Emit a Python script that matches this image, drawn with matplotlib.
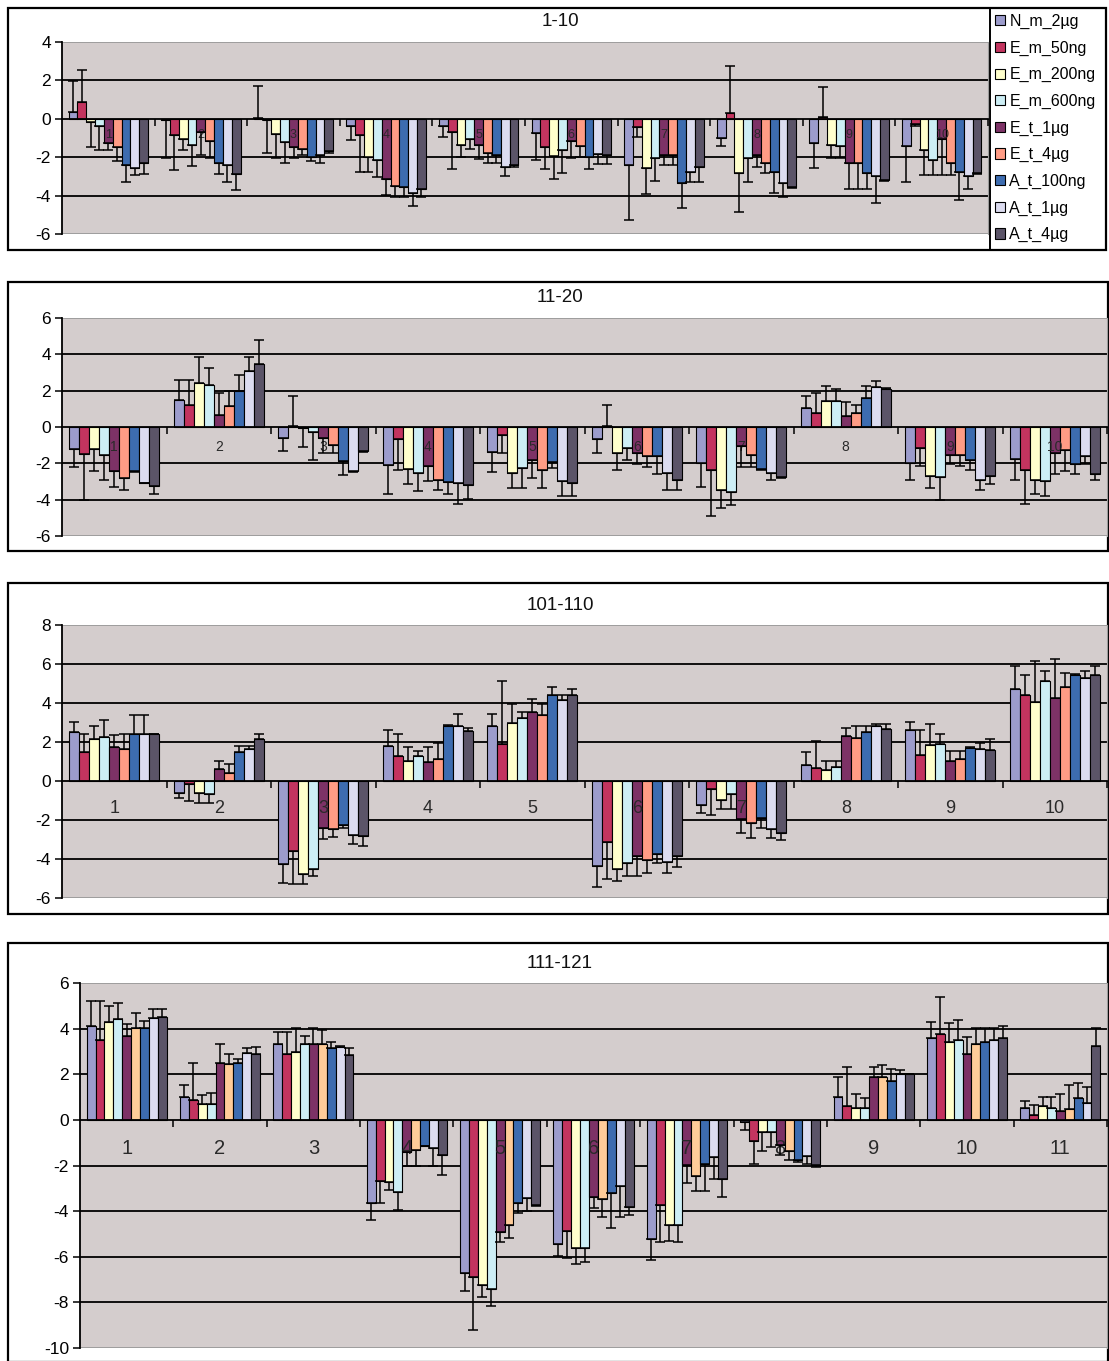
import numpy as np
import matplotlib
matplotlib.use("Agg")
import matplotlib.pyplot as plt
from matplotlib.patches import Rectangle

plt.rcParams['font.family'] = ['Liberation Sans', 'DejaVu Sans']
plt.rcParams['axes.unicode_minus'] = False

W, H = 1109, 1361

series = ["N_m_2µg", "E_m_50ng", "E_m_200ng", "E_m_600ng", "E_t_1µg",
          "E_t_4µg", "A_t_100ng", "A_t_1µg", "A_t_4µg"]
colors = ['#9C9CCC', '#C3345F', '#FFFFCC', '#CDEEF5', '#7D3266',
          '#FF9C85', '#3D6CB0', '#DCDCF0', '#5B5468']
orange_p4 = '#FFCC99'

# ---------------- Panel 1: 1-10 ----------------
p1_labels = ["1", "2", "3", "4", "5", "6", "7", "8", "9", "10"]
p1_vals = [
    [0.38, 0.87, -0.15, -0.4, -1.27, -1.45, -2.43, -2.57, -2.3],
    [-0.05, -0.83, -1.05, -1.35, -0.7, -1.15, -2.3, -2.4, -2.85],
    [0.02, -0.05, -0.8, -1.23, -1.45, -1.55, -1.97, -1.88, -1.7],
    [-0.4, -0.83, -1.97, -2.17, -3.13, -3.48, -3.57, -3.88, -3.67],
    [-0.37, -0.71, -1.36, -1.04, -1.36, -1.79, -1.88, -2.52, -2.4],
    [-0.75, -1.46, -1.93, -1.65, -1.18, -1.44, -1.97, -1.83, -1.88],
    [-2.4, -0.43, -2.57, -2.05, -1.88, -1.91, -3.36, -2.75, -2.49],
    [-1.0, 0.3, -2.83, -2.05, -1.88, -2.31, -2.75, -3.36, -3.53],
    [-1.27, 0.08, -1.36, -1.41, -2.28, -2.31, -2.83, -2.97, -3.18],
    [-1.44, -0.26, -1.62, -2.14, -1.06, -2.28, -2.75, -3.0, -2.8],
]
p1_errs = [
    [1.6, 1.68, 1.3, 1.25, 0.38, 0.75, 0.84, 0.38, 0.55],
    [2.0, 1.82, 0.6, 1.1, 1.2, 0.9, 0.55, 0.87, 0.85],
    [1.68, 1.75, 1.25, 1.07, 0.6, 0.35, 0.23, 0.42, 0.1],
    [0.73, 1.92, 0.78, 0.87, 0.83, 0.57, 0.48, 0.66, 0.38],
    [0.59, 1.92, 0.61, 0.54, 0.73, 0.5, 0.42, 0.45, 0.1],
    [1.42, 1.13, 1.22, 1.15, 0.87, 0.53, 0.66, 0.52, 0.47],
    [2.87, 0.5, 1.35, 1.2, 0.52, 0.5, 1.3, 0.52, 0.78],
    [0.44, 2.43, 2.0, 1.22, 0.61, 0.49, 1.13, 0.69, 0.05],
    [1.3, 1.6, 0.7, 0.64, 1.39, 1.36, 0.84, 1.43, 0.05],
    [1.83, 0.1, 1.3, 0.78, 1.86, 0.64, 1.48, 0.67, 0.1],
]

# ---------------- Panel 2: 11-20 ----------------
p2_labels = ["1", "2", "3", "4", "5", "6", "7", "8", "9", "10"]
p2_vals = [
    [-1.21, -1.47, -1.21, -1.54, -2.44, -2.8, -2.44, -3.06, -3.23],
    [1.5, 1.23, 2.42, 2.33, 0.68, 1.14, 2.0, 3.06, 3.47],
    [-0.6, 0.05, -0.05, -0.28, -0.6, -0.97, -1.89, -2.4, -1.34],
    [-2.09, -0.67, -2.33, -2.55, -2.13, -2.91, -3.04, -3.11, -3.22],
    [-1.36, -0.45, -2.55, -2.24, -1.82, -2.36, -1.91, -2.95, -3.08],
    [-0.64, 0.05, -1.43, -1.16, -1.43, -1.61, -1.61, -2.53, -2.9],
    [-1.98, -2.35, -3.45, -3.58, -1.06, -1.52, -2.31, -2.53, -2.77],
    [1.05, 0.77, 1.45, 1.41, 0.59, 0.77, 1.6, 2.18, 2.11],
    [-1.98, -1.16, -2.72, -2.77, -1.56, -1.56, -1.8, -2.9, -2.72],
    [-1.76, -2.35, -2.9, -2.99, -1.43, -1.25, -2.04, -1.61, -2.59],
]
p2_errs = [
    [1.0, 2.53, 1.23, 1.36, 0.88, 0.65, 0.03, 0.05, 0.44],
    [1.1, 1.37, 1.41, 0.92, 1.19, 0.86, 0.88, 0.77, 1.33],
    [0.73, 1.64, 1.05, 1.52, 0.83, 0.46, 0.73, 0.07, 0.04],
    [1.58, 1.7, 0.8, 1.0, 0.82, 0.55, 0.65, 1.13, 0.73],
    [1.09, 1.0, 0.81, 1.12, 1.0, 1.0, 0.35, 0.83, 0.7],
    [0.79, 1.18, 0.92, 0.64, 0.61, 0.61, 0.98, 0.92, 0.55],
    [1.34, 2.57, 1.01, 0.73, 1.16, 0.7, 0.05, 0.37, 0.05],
    [0.68, 1.1, 0.79, 0.7, 0.79, 0.46, 0.64, 0.37, 0.03],
    [0.92, 1.0, 0.64, 1.23, 0.48, 0.6, 0.55, 0.55, 0.4],
    [1.14, 1.89, 0.79, 0.83, 1.16, 1.19, 0.55, 0.43, 0.31],
]

# ---------------- Panel 3: 101-110 ----------------
p3_labels = ["1", "2", "3", "4", "5", "6", "7", "8", "9", "10"]
p3_vals = [
    [2.51, 1.49, 2.17, 2.27, 1.76, 1.62, 2.39, 2.39, 2.39],
    [-0.6, -0.17, -0.6, -0.68, 0.63, 0.39, 1.49, 1.62, 2.17],
    [-4.27, -3.59, -4.79, -4.5, -2.39, -2.44, -2.27, -2.79, -2.82],
    [1.79, 1.28, 1.03, 1.28, 0.97, 1.15, 2.82, 2.82, 2.56],
    [2.82, 1.91, 2.96, 3.25, 3.56, 3.37, 4.39, 4.15, 4.39],
    [-4.36, -3.13, -4.53, -4.19, -3.85, -4.05, -3.76, -4.15, -3.85],
    [-1.25, -0.39, -0.97, -0.68, -1.93, -2.17, -1.88, -2.44, -2.68],
    [0.8, 0.68, 0.56, 0.72, 2.31, 2.22, 2.51, 2.82, 2.68],
    [2.62, 1.32, 1.85, 1.88, 1.03, 1.15, 1.71, 1.62, 1.57],
    [4.74, 4.39, 4.05, 5.13, 4.27, 4.84, 5.44, 5.26, 5.44],
]
p3_errs = [
    [0.52, 0.94, 0.65, 0.85, 0.58, 0.77, 0.97, 0.97, 0.03],
    [0.26, 0.85, 0.55, 0.46, 0.4, 0.46, 0.3, 0.17, 0.22],
    [0.94, 1.71, 0.51, 0.37, 0.6, 0.41, 0.12, 0.46, 0.51],
    [0.82, 1.11, 0.73, 0.26, 0.79, 0.8, 0.03, 0.63, 0.17],
    [0.63, 3.22, 0.97, 0.29, 0.63, 0.6, 0.43, 0.24, 0.35],
    [1.06, 1.88, 0.6, 0.68, 1.02, 0.65, 0.46, 0.55, 0.54],
    [0.37, 1.37, 0.45, 0.74, 0.75, 0.74, 0.51, 0.47, 0.35],
    [0.69, 1.37, 0.47, 0.31, 0.43, 0.6, 0.31, 0.08, 0.22],
    [0.41, 1.3, 1.05, 0.51, 0.51, 0.39, 0.05, 0.31, 0.6],
    [1.16, 1.05, 2.1, 0.51, 1.97, 0.68, 0.03, 0.38, 0.46],
]

# ---------------- Panel 4: 111-121 ----------------
p4_labels = ["1", "2", "3", "4", "5", "6", "7", "8", "9", "10", "11"]
p4_vals = [
    [4.13, 3.5, 4.31, 4.41, 3.69, 4.04, 4.04, 4.46, 4.49],
    [1.0, 0.88, 0.71, 0.71, 2.51, 2.43, 2.5, 2.91, 2.87],
    [3.31, 2.87, 2.96, 3.31, 3.31, 3.31, 3.13, 3.2, 2.84],
    [-3.63, -2.68, -2.71, -3.15, -1.43, -1.31, -1.13, -1.25, -1.54],
    [-6.72, -6.9, -7.24, -7.43, -4.93, -4.63, -3.66, -3.41, -3.75],
    [-5.44, -4.89, -5.61, -5.61, -3.4, -3.47, -3.2, -2.88, -3.84],
    [-5.24, -3.74, -4.62, -4.62, -1.96, -2.47, -1.92, -1.62, -2.58],
    [-0.1, -0.93, -0.55, -0.55, -1.08, -1.37, -1.77, -1.58, -1.99],
    [0.99, 0.63, 0.51, 0.51, 1.88, 1.88, 1.69, 1.99, 1.99],
    [3.6, 3.75, 3.4, 3.5, 2.87, 3.31, 3.43, 3.5, 3.6],
    [0.51, 0.22, 0.6, 0.51, 0.41, 0.49, 0.96, 0.75, 3.25],
]
p4_errs = [
    [1.09, 1.72, 0.69, 0.71, 0.5, 0.64, 0.3, 0.4, 0.37],
    [0.54, 1.62, 0.4, 0.47, 0.8, 0.44, 0.15, 0.22, 0.33],
    [0.53, 0.97, 1.05, 0.37, 0.7, 0.63, 0.27, 0.03, 0.29],
    [0.74, 0.98, 0.37, 0.78, 0.61, 0.73, 0.03, 0.79, 0.89],
    [0.77, 2.32, 0.54, 0.73, 0.44, 0.55, 0.44, 0.59, 0.03],
    [0.51, 1.17, 0.7, 0.64, 0.48, 0.77, 1.53, 1.36, 0.34],
    [0.92, 1.62, 0.7, 0.74, 0.8, 0.63, 1.18, 0.96, 0.81],
    [0.35, 0.99, 0.82, 0.63, 0.44, 0.4, 0.08, 0.34, 0.08],
    [0.89, 1.69, 0.64, 0.45, 0.44, 0.52, 0.56, 0.19, 0.04],
    [0.71, 1.62, 0.84, 0.88, 0.78, 0.7, 0.58, 0.54, 0.53],
    [0.3, 0.44, 0.4, 0.49, 0.74, 1.02, 0.67, 0.7, 0.76],
]

panels = [
    dict(title="1-10", labels=p1_labels, vals=p1_vals, errs=p1_errs, ylim=(-6, 4),
         plot=(62, 42, 988, 234), frame=(8, 8, 1106, 250), ty=21,
         lfs=9, lpad=7.5, salmon=colors[5]),
    dict(title="11-20", labels=p2_labels, vals=p2_vals, errs=p2_errs, ylim=(-6, 6),
         plot=(62, 318, 1107, 536), frame=(8, 282, 1108, 551), ty=298,
         lfs=10, lpad=9.5, salmon=colors[5]),
    dict(title="101-110", labels=p3_labels, vals=p3_vals, errs=p3_errs, ylim=(-6, 8),
         plot=(62, 625, 1107, 898), frame=(8, 583, 1108, 914), ty=606,
         lfs=13, lpad=14, salmon=colors[5]),
    dict(title="111-121", labels=p4_labels, vals=p4_vals, errs=p4_errs, ylim=(-10, 6),
         plot=(80, 983, 1107, 1348), frame=(8, 943, 1108, 1362), ty=963,
         lfs=14.5, lpad=14, salmon=orange_p4),
]

fig = plt.figure(figsize=(W / 100, H / 100), dpi=100)
fig.patch.set_facecolor('white')


def frac_rect(x0, y0, x1, y1):
    return [x0 / W, 1 - y1 / H, (x1 - x0) / W, (y1 - y0) / H]


bar_w = 1 / 10.5
legend_handles = None
for p in panels:
    fx0, fy0, fx1, fy1 = p['frame']
    fig.add_artist(Rectangle((fx0 / W, 1 - fy1 / H), (fx1 - fx0) / W, (fy1 - fy0) / H,
                             transform=fig.transFigure, fill=False,
                             edgecolor='black', linewidth=1.6, zorder=0))
    fig.text(560 / W, 1 - p['ty'] / H, p['title'], ha='center', va='center',
             fontsize=13.5, color='#111111')

    ax = fig.add_axes(frac_rect(*p['plot']))
    ax.set_facecolor('#D4CDCD')
    ax.set_axisbelow(False)
    vals = np.array(p['vals'])
    errs = np.array(p['errs'])
    n = vals.shape[0]
    centers = np.arange(n)
    ymin, ymax = p['ylim']

    for yv in np.arange(ymin + 2, ymax, 2):
        if yv != 0:
            ax.axhline(yv, color='black', linewidth=1.3, zorder=1)
    ax.axhline(ymax, color='#9A9A9A', linewidth=1.3, zorder=1)
    ax.axhline(ymin, color='#9A9A9A', linewidth=1.3, zorder=1)

    handles = []
    for j in range(9):
        c = p['salmon'] if j == 5 else colors[j]
        x = centers + (j - 4) * bar_w
        v = vals[:, j]
        e = errs[:, j]
        h = ax.bar(x, v, width=bar_w, color=c, edgecolor='black',
                   linewidth=0.8, zorder=2, label=series[j])
        handles.append(h)
        lower = np.where(v < 0, e, 0)
        upper = np.where(v >= 0, e, 0)
        ax.errorbar(x, v, yerr=[lower, upper], fmt='none', ecolor='black',
                    elinewidth=1.1, capsize=3.3, capthick=1.1, zorder=3)
    if legend_handles is None:
        legend_handles = handles

    ax.set_xlim(-0.5, n - 0.5)
    ax.set_ylim(ymin, ymax)
    ax.set_yticks(np.arange(ymin, ymax + 1, 2))
    ax.tick_params(axis='y', direction='out', length=5, width=1.1,
                   labelsize=12.5, pad=3, colors='black')
    ax.set_xticks(np.arange(0.5, n, 1.0))
    ax.set_xticklabels([])
    ax.tick_params(axis='x', which='major', direction='out', length=5, width=1.1)
    ax.set_xticks(centers, minor=True)
    ax.set_xticklabels(p['labels'], minor=True)
    ax.tick_params(axis='x', which='minor', length=0, labelsize=p['lfs'],
                   pad=p['lpad'], labelcolor='#2A2A2A')

    ax.spines['bottom'].set_position(('data', 0))
    ax.spines['bottom'].set_linewidth(1.3)
    ax.spines['left'].set_linewidth(1.3)
    ax.spines['top'].set_visible(False)
    ax.spines['right'].set_color('#9A9A9A')

fig.add_artist(Rectangle((990 / W, 1 - 250 / H), (1106 - 990) / W, (250 - 8) / H,
                         transform=fig.transFigure, fill=False,
                         edgecolor='black', linewidth=1.4, zorder=0))
fig.legend(handles=legend_handles, labels=series, loc='upper left',
           bbox_to_anchor=(991 / W, 1 - 10 / H), frameon=False,
           fontsize=11.5, handlelength=0.6, handleheight=0.6,
           handletextpad=0.3, labelspacing=0.72, borderaxespad=0, borderpad=0.25)

fig.savefig("out.png", dpi=100)
